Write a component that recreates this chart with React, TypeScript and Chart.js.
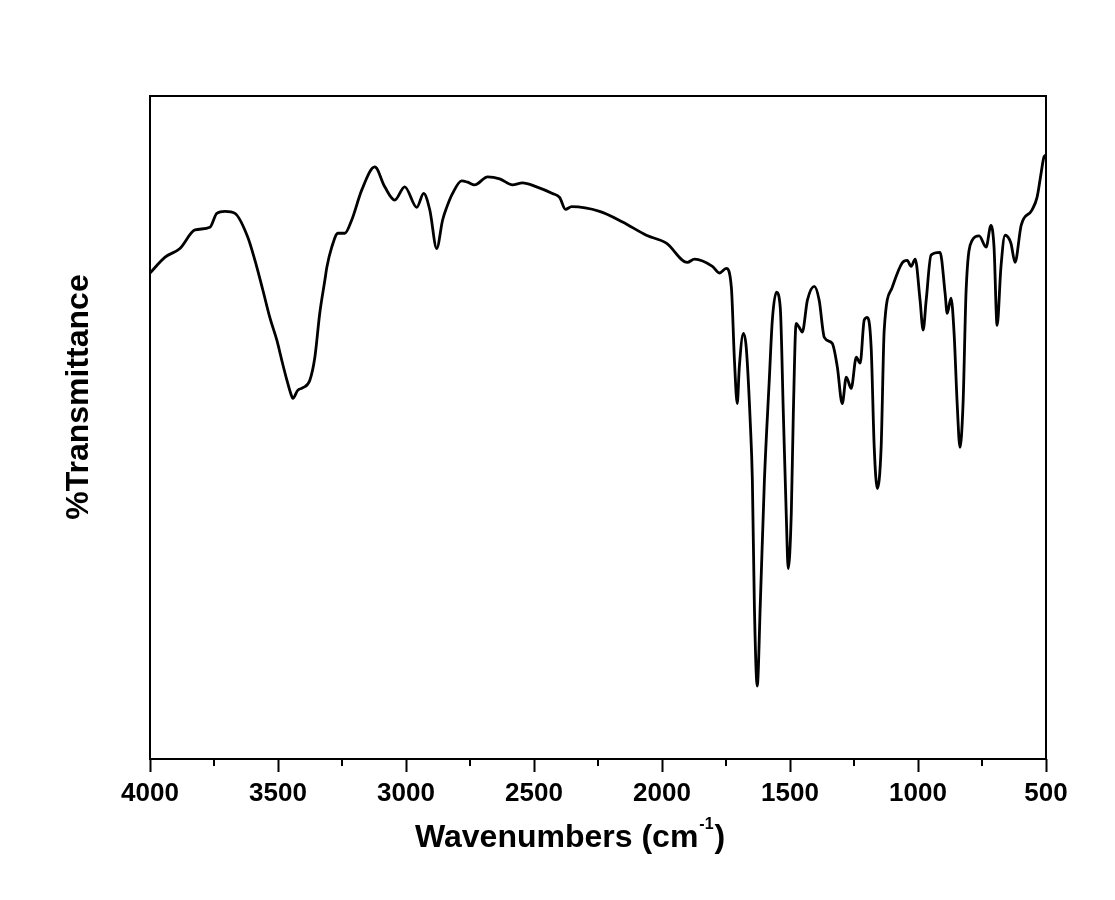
import React, { useEffect, useRef } from "react";
import { Chart, registerables } from "chart.js";

Chart.register(...registerables);

// Wavenumbers (cm^-1) of the traced spectrum points
const wavenumbers = [
  4000, 3941, 3883, 3824, 3766, 3739, 3707, 3668, 3618, 3590,
  3559, 3532, 3504, 3485, 3465, 3450, 3442, 3423, 3403, 3376,
  3356, 3337, 3317, 3309, 3290, 3266, 3239, 3212, 3173, 3122,
  3083, 3044, 3005, 2958, 2931, 2907, 2880, 2857, 2841, 2818,
  2783, 2759, 2732, 2681, 2634, 2584, 2545, 2490, 2428, 2400,
  2377, 2353, 2244, 2154, 2061, 1983, 1901, 1873, 1803, 1776,
  1749, 1729, 1717, 1706, 1698, 1682, 1671, 1655, 1647, 1639,
  1628, 1616, 1600, 1581, 1569, 1553, 1538, 1526, 1514, 1507,
  1495, 1487, 1476, 1464, 1452, 1432, 1405, 1386, 1366, 1335,
  1315, 1296, 1280, 1261, 1241, 1226, 1210, 1198, 1183, 1171,
  1159, 1144, 1132, 1101, 1062, 1042, 1027, 1011, 992, 980,
  968, 949, 914, 894, 886, 871, 859, 847, 836, 824,
  812, 789, 761, 734, 715, 703, 691, 676, 660, 637,
  621, 597, 555, 535, 519, 508, 500,
];

// %Transmittance (relative scale 0-100)
const transmittance = [
  73.3, 75.7, 77.0, 79.8, 80.2, 82.3, 82.6, 82.3, 78.7, 75.2,
  70.7, 66.6, 63.1, 60.1, 57.1, 55.1, 54.4, 55.6, 56.0, 57.1,
  60.6, 67.2, 72.2, 74.2, 77.2, 79.3, 79.3, 81.3, 85.8, 89.3,
  86.3, 84.3, 86.3, 83.2, 85.3, 82.8, 77.0, 81.3, 83.2, 85.3,
  87.2, 87.0, 86.6, 87.8, 87.5, 86.6, 86.9, 86.3, 85.3, 84.7,
  82.9, 83.3, 82.6, 81.0, 79.0, 77.8, 74.9, 75.4, 74.3, 73.3,
  74.0, 71.1, 60.1, 53.6, 59.1, 64.2, 62.1, 50.6, 42.0, 22.8,
  11.0, 23.4, 42.0, 57.1, 66.2, 70.4, 68.1, 52.1, 36.0, 28.7,
  37.0, 52.1, 65.7, 65.1, 64.4, 69.2, 71.3, 69.2, 63.6, 62.7,
  59.1, 53.6, 57.6, 55.9, 60.6, 59.7, 66.2, 66.6, 62.1, 47.0,
  40.8, 47.0, 64.7, 71.1, 74.8, 75.2, 74.3, 75.4, 69.2, 64.7,
  69.2, 76.0, 76.4, 70.2, 67.2, 69.5, 64.2, 53.6, 47.0, 53.6,
  70.7, 78.2, 78.9, 77.2, 80.5, 77.2, 65.4, 74.2, 79.0, 77.8,
  74.9, 80.5, 82.8, 84.7, 88.4, 90.8, 91.1,
];

const majorTicks = [4000, 3500, 3000, 2500, 2000, 1500, 1000, 500];
const minorTicks = [3750, 3250, 2750, 2250, 1750, 1250, 750];

const xTitleMain = "Wavenumbers (cm";
const xTitleSup = "-1";
const xTitleEnd = ")";
const yTitle = "%Transmittance";

const FONT = '"Liberation Sans", Arial, Helvetica, sans-serif';

const framePlugin = {
  id: "frameAndTitles",
  afterDraw(chart: any) {
    const { ctx, chartArea: a, scales } = chart;
    ctx.save();
    ctx.strokeStyle = "#000";
    ctx.lineWidth = 2;
    ctx.strokeRect(a.left, a.top, a.right - a.left, a.bottom - a.top);

    // minor ticks (shorter)
    minorTicks.forEach((v) => {
      const x = scales.x.getPixelForValue(v);
      ctx.beginPath();
      ctx.moveTo(x, a.bottom);
      ctx.lineTo(x, a.bottom + 7);
      ctx.stroke();
    });

    ctx.fillStyle = "#000";
    // x title with superscript
    const baseY = a.bottom + 88;
    let x = a.left + 265;
    ctx.textAlign = "left";
    ctx.textBaseline = "alphabetic";
    ctx.font = `bold 32px ${FONT}`;
    ctx.fillText(xTitleMain, x, baseY);
    x += ctx.measureText(xTitleMain).width + 1;
    ctx.font = `bold 16px ${FONT}`;
    ctx.fillText(xTitleSup, x, baseY - 18);
    x += ctx.measureText(xTitleSup).width + 1;
    ctx.font = `bold 32px ${FONT}`;
    ctx.fillText(xTitleEnd, x, baseY);

    // y title rotated
    ctx.translate(a.left - 62, a.top + 301);
    ctx.rotate(-Math.PI / 2);
    ctx.textAlign = "center";
    ctx.font = `bold 32px ${FONT}`;
    ctx.fillText(yTitle, 0, 0);
    ctx.restore();
  },
};

export default function App() {
  const canvasRef = useRef<HTMLCanvasElement | null>(null);

  useEffect(() => {
    const canvas = canvasRef.current;
    if (!canvas) return;
    const points = wavenumbers.map((w, i) => ({ x: w, y: transmittance[i] }));
    const chart = new Chart(canvas, {
      type: "line",
      data: {
        datasets: [
          {
            label: "FTIR",
            data: points,
            borderColor: "#000",
            borderWidth: 2.8,
            pointRadius: 0,
            cubicInterpolationMode: "monotone",
            fill: false,
          },
        ],
      },
      options: {
        responsive: false,
        animation: false,
        devicePixelRatio: 1,
        layout: { padding: { top: 96, right: 69, left: 0, bottom: 0 } },
        plugins: {
          legend: { display: false },
          tooltip: { enabled: false },
          title: { display: false },
        },
        scales: {
          x: {
            type: "linear",
            reverse: true,
            min: 500,
            max: 4000,
            afterBuildTicks: (s: any) => {
              s.ticks = majorTicks.map((v) => ({ value: v }));
            },
            afterFit: (s: any) => {
              s.height = 141;
            },
            ticks: {
              color: "#000",
              padding: 6,
              maxRotation: 0,
              autoSkip: false,
              font: { family: FONT, size: 26, weight: "bold" },
              callback: (v: any) => String(v),
            },
            grid: {
              display: true,
              drawOnChartArea: false,
              drawTicks: true,
              tickLength: 13,
              tickWidth: 2,
              tickColor: "#000",
            },
            border: { display: false },
          },
          y: {
            min: 0,
            max: 100,
            afterFit: (s: any) => {
              s.width = 150;
            },
            ticks: { display: false },
            grid: { display: false, drawTicks: false },
            border: { display: false },
          },
        },
      },
      plugins: [framePlugin],
    } as any);
    return () => chart.destroy();
  }, []);

  return (
    <div style={{ position: "fixed", left: 0, top: 0, width: 1115, height: 900, background: "#fff" }}>
      <canvas ref={canvasRef} width={1115} height={900} style={{ width: 1115, height: 900, display: "block" }} />
    </div>
  );
}
